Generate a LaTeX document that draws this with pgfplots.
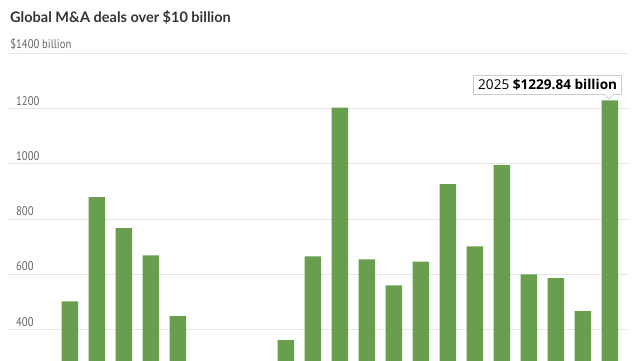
\documentclass[border=0pt]{standalone}
\usepackage{fontspec}
\setmainfont{Open Sans}
\newfontfamily\titlefont{Lato}
\newfontfamily\labelfont[FakeStretch=0.85]{PT Sans}
\usepackage{pgfplots}
\pgfplotsset{compat=1.18}
\definecolor{barg}{HTML}{6A9E4F}
\definecolor{gridc}{HTML}{E6E6E6}
\definecolor{labelc}{HTML}{666666}
\definecolor{titlec}{HTML}{333333}
\definecolor{tipborder}{HTML}{CCCCCC}
\begin{document}
\begin{tikzpicture}[x=1pt,y=1pt]
\path[use as bounding box] (0,0) rectangle (640,360);
\begin{axis}[
  at={(8pt,-79.8pt)}, anchor=south west,
  scale only axis, width=620pt, height=386.5pt,
  xmin=2002.704, xmax=2025.667, ymin=0, ymax=1400,
  ybar, bar width=16.5pt, bar shift=0pt,
  axis line style={draw=none},
  major tick length=0pt,
  xtick=\empty,
  ytick={400,600,800,1000,1200,1400},
  yticklabels={400,600,800,1000,1200,{\llap{\$}1400 billion}},
  ymajorgrids,
  grid style={color=gridc, line width=0.8pt},
  yticklabel style={anchor=south west, inner sep=0pt, xshift=8pt, yshift=3pt,
    font=\labelfont\fontsize{12.5}{13}\selectfont, text=labelc},
]
\addplot[fill=barg, draw=none] coordinates {
(2005,501) (2006,879) (2007,767) (2008,668) (2009,448)
(2010,230) (2011,260) (2012,240) (2013,361) (2014,664)
(2015,1203) (2016,654) (2017,559) (2018,645) (2019,926)
(2020,701) (2021,995) (2022,599) (2023,586) (2024,466)
(2025,1229.84)};
\filldraw[fill=white, draw=tipborder, line width=0.7pt]
  ([xshift=-6pt,yshift=6.5pt]axis cs:2025,1229.84) --
  ([xshift=-1pt,yshift=1.5pt]axis cs:2025,1229.84) --
  ([xshift=4pt,yshift=6.5pt]axis cs:2025,1229.84);
\node[draw=tipborder, fill=white, line width=0.7pt, anchor=south east,
  inner xsep=4.5pt, inner ysep=3.5pt, text=black,
  font=\fontsize{13.6}{16}\selectfont]
  at ([xshift=12pt,yshift=6pt]axis cs:2025,1229.84)
  {2025 \textbf{\$1229.84 billion}};
\fill[white] ([xshift=-5.2pt,yshift=5.6pt]axis cs:2025,1229.84) rectangle ([xshift=3.2pt,yshift=6.7pt]axis cs:2025,1229.84);
\end{axis}
\node[anchor=base west, inner sep=0pt, text=titlec,
  font=\titlefont\bfseries\fontsize{14.5}{16}\selectfont] at (10,338)
  {Global M\&A deals over \$10 billion};
\end{tikzpicture}
\end{document}
